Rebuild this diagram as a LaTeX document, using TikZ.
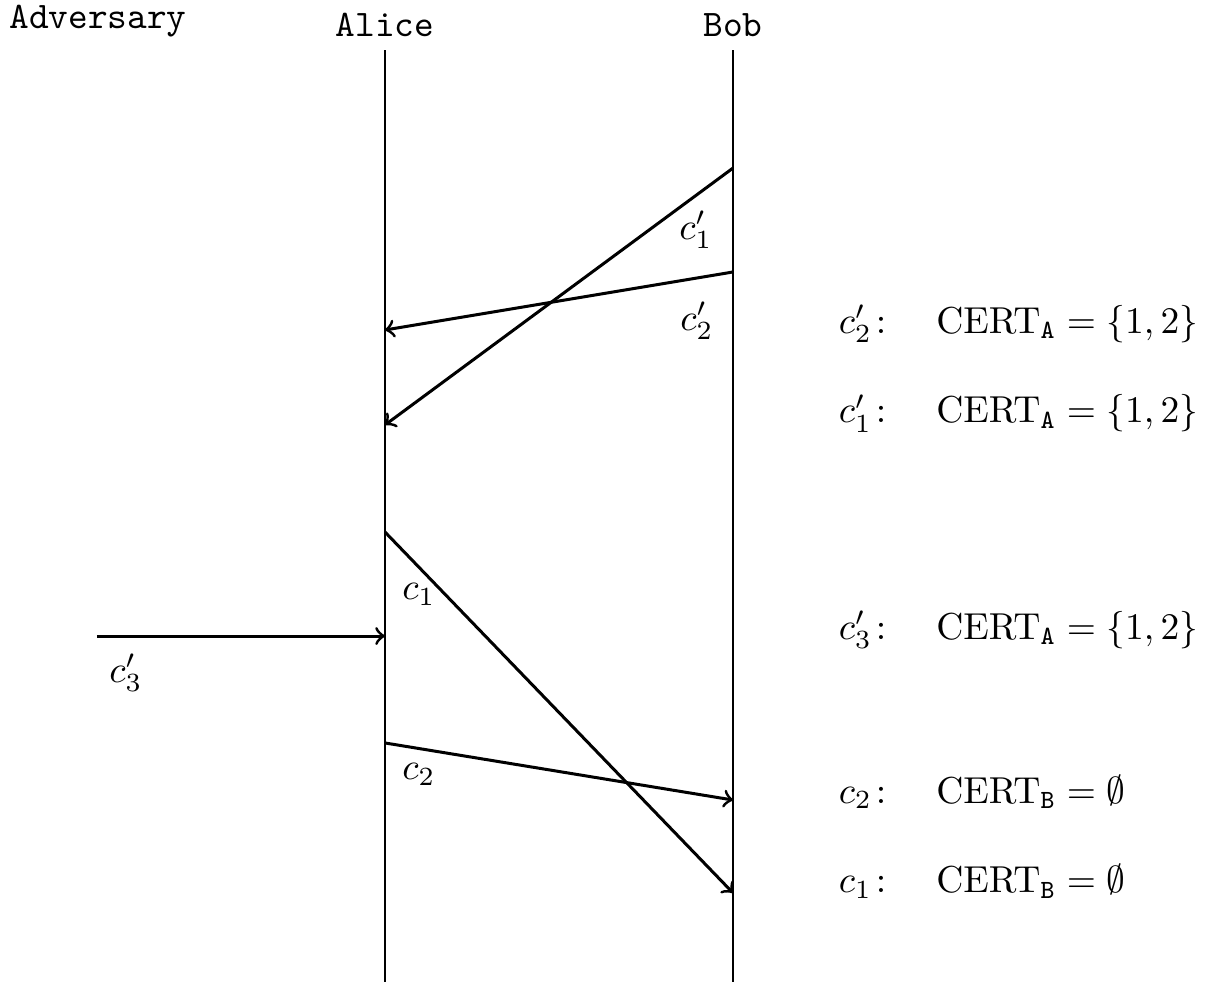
\documentclass[tikz,border=0pt]{standalone}
\usepackage{amsmath}
\usepackage{amssymb}
\usetikzlibrary{positioning,calc}

\begin{document}
\begin{tikzpicture}[
  party/.style={anchor=south, font=\ttfamily},
  life/.style ={line width=0.4pt},
  msg/.style  ={->, thick},
  tag/.style  ={anchor=base, inner sep=0pt},
  cert/.style ={anchor=base west, inner sep=0pt}]

\useasboundingbox (0,0) rectangle (11.331,-9.203);

\node[party] (adv)   at (0.918,-0.469) {Adversary};
\node[party] (alice) at (3.608,-0.469) {Alice};
\node[party] (bob)   at (6.870,-0.469) {Bob};

\coordinate (aliceend) at (3.608,-9.203);
\coordinate (bobend)   at (6.870,-9.203);
\draw[life] (alice.south) -- (aliceend);
\draw[life] (bob.south)   -- (bobend);

% message end points on the life lines
\coordinate (bc1s) at (6.870,-1.575);
\coordinate (ac1e) at (3.608,-3.983);
\coordinate (bc2s) at (6.870,-2.549);
\coordinate (ac2e) at (3.608,-3.093);
\coordinate (ac1)  at (3.608,-4.986);
\coordinate (bc1)  at (6.870,-8.369);
\coordinate (ac2)  at (3.608,-6.963);
\coordinate (bc2)  at (6.870,-7.498);
\coordinate (dc3s) at (0.909,-5.961);
\coordinate (ac3e) at (3.608,-5.961);

\draw[msg] (bc1s) -- (ac1e);
\draw[msg] (bc2s) -- (ac2e);
\draw[msg] (ac1)  -- (bc1);
\draw[msg] (ac2)  -- (bc2);
\draw[msg] (dc3s) -- (ac3e);

\node[tag] (lc1p) at (6.523,-2.240) {$c_1'$};
\node[tag] (lc2p) at (6.532,-3.093) {$c_2'$};
\node[tag] (lc1)  at (3.927,-5.623) {$c_1$};
\node[tag] (lc2)  at (3.927,-7.310) {$c_2$};
\node[tag] (lc3p) at (1.181,-6.392) {$c_3'$};

% certificates
\node[cert] (k2p) at (7.854,-3.121) {$c_2'\colon\quad \mathrm{CERT}_{\mathtt{A}} = \{1,2\}$};
\node[cert] (k1p) at (7.854,-3.964) {$c_1'\colon\quad \mathrm{CERT}_{\mathtt{A}} = \{1,2\}$};
\node[cert] (k3p) at (7.854,-5.989) {$c_3'\colon\quad \mathrm{CERT}_{\mathtt{A}} = \{1,2\}$};
\node[cert] (k2)  at (7.854,-7.526) {$c_2\colon\quad \mathrm{CERT}_{\mathtt{B}} = \emptyset$};
\node[cert] (k1)  at (7.854,-8.369) {$c_1\colon\quad \mathrm{CERT}_{\mathtt{B}} = \emptyset$};
\end{tikzpicture}
\end{document}
